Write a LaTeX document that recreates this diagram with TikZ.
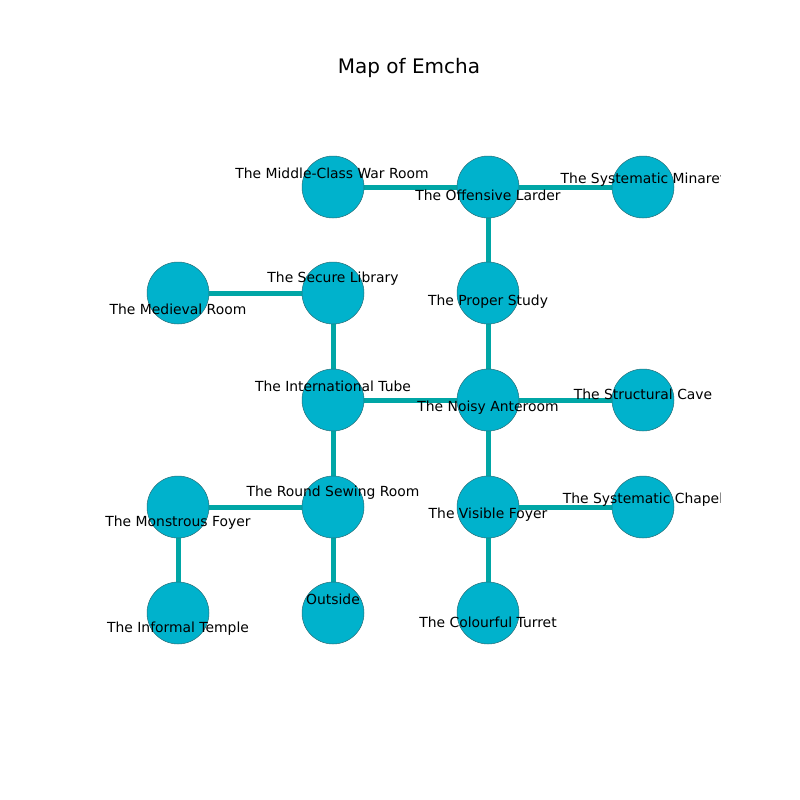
\documentclass[tikz,border=0pt]{standalone}
\usepackage{fontspec}
\setmainfont{DejaVu Sans}
\usetikzlibrary{backgrounds}
\definecolor{edgec}{RGB}{0,166,166}
\definecolor{nodec}{RGB}{0,178,204}
\definecolor{rimc}{RGB}{40,110,120}
\tikzset{
  room/.style={circle, fill=nodec, draw=rimc, line width=0.5pt, minimum size=62pt, inner sep=0pt},
  link/.style={draw=edgec, line width=5pt},
  lbl/.style={inner sep=0pt, font=\fontsize{13.9}{16}\selectfont, anchor=center}
}
\begin{document}
\begin{tikzpicture}[x=1pt,y=-1pt]
\useasboundingbox (0,0) rectangle (800,800);
\node[font=\fontsize{20}{24}\selectfont] (title) at (409,68) {Map of Emcha};
% circles
\node[room] (mcw) at (333,187) {};
\node[room] (off) at (488,187) {};
\node[room] (min) at (643,187) {};
\node[room] (med) at (178,293) {};
\node[room] (sec) at (333,293) {};
\node[room] (pro) at (488,293) {};
\node[room] (int) at (333,400) {};
\node[room] (noi) at (488,400) {};
\node[room] (str) at (643,400) {};
\node[room] (mon) at (178,507) {};
\node[room] (rsr) at (333,507) {};
\node[room] (vis) at (488,507) {};
\node[room] (cha) at (643,507) {};
\node[room] (inf) at (178,613) {};
\node[room] (out) at (333,613) {};
\node[room] (col) at (488,613) {};
% edges behind circles
\begin{scope}[on background layer]
\foreach \a/\b in {mcw/off, off/min, off/pro, pro/noi, med/sec, sec/int, int/rsr, rsr/out, int/noi, noi/str, noi/vis, vis/col, vis/cha, mon/rsr, mon/inf}
  \draw[link] (\a.center) -- (\b.center);
\end{scope}
% labels
\begin{scope}
\clip (100,96) rectangle (720,712);
\node[lbl] (l1) at (332,173) {The Middle-Class War Room};
\node[lbl] (l2) at (488,195) {The Offensive Larder};
\node[lbl] (l3) at (643,180) {The Systematic Minaret};
\node[lbl] (l4) at (333,279) {The Secure Library};
\node[lbl] (l5) at (178,309) {The Medieval Room};
\node[lbl] (l6) at (488,302) {The Proper Study};
\node[lbl] (l7) at (333,386) {The International Tube};
\node[lbl] (l8) at (488,408) {The Noisy Anteroom};
\node[lbl] (l9) at (643,394) {The Structural Cave};
\node[lbl] (l10) at (333,493) {The Round Sewing Room};
\node[lbl] (l11) at (178,523) {The Monstrous Foyer};
\node[lbl] (l12) at (488,515) {The Visible Foyer};
\node[lbl] (l13) at (643,500) {The Systematic Chapel};
\node[lbl] (l14) at (333,599) {Outside};
\node[lbl] (l15) at (178,629) {The Informal Temple};
\node[lbl] (l16) at (488,622) {The Colourful Turret};
\end{scope}
\end{tikzpicture}
\end{document}
